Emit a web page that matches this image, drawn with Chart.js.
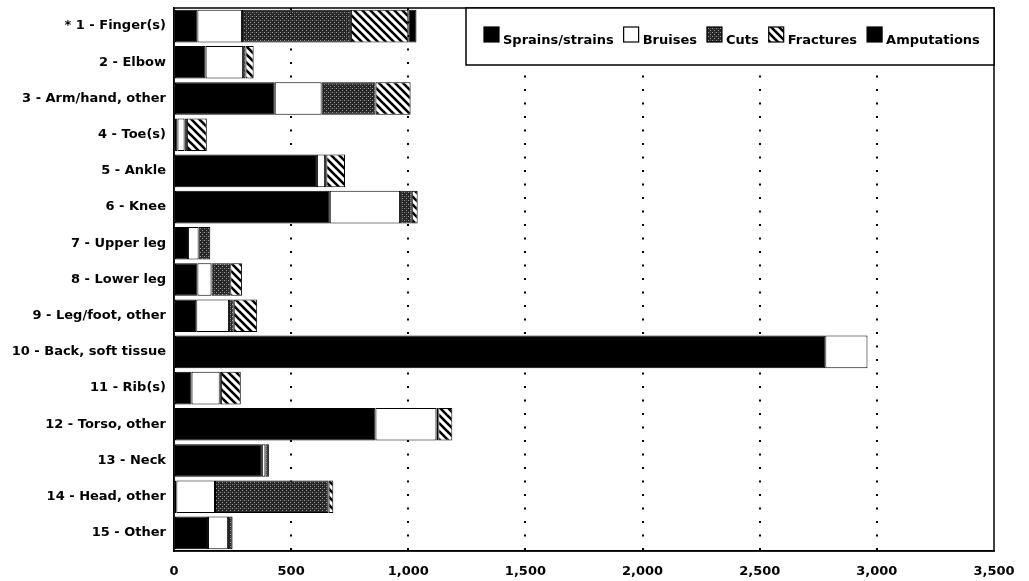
<!DOCTYPE html>
<html>
<head>
<meta charset="utf-8">
<script src="https://cdn.jsdelivr.net/npm/chart.js@4"></script>
<style>
  html, body { margin: 0; padding: 0; background: #fff; }
  #wrap { width: 1029px; height: 581px; position: relative; }
</style>
</head>
<body>
<div id="wrap"><canvas id="injuryChart"></canvas></div>
<script>
const bodyParts = [
  "* 1 - Finger(s)", "2 - Elbow", "3 - Arm/hand, other", "4 - Toe(s)", "5 - Ankle",
  "6 - Knee", "7 - Upper leg", "8 - Lower leg", "9 - Leg/foot, other",
  "10 - Back, soft tissue", "11 - Rib(s)", "12 - Torso, other", "13 - Neck",
  "14 - Head, other", "15 - Other"
];
const sprains     = [100, 135, 430, 15, 610, 665, 60, 100, 95, 2780, 75, 860, 375, 10, 145];
const bruises     = [190, 160, 200, 30, 35, 300, 45, 60, 140, 180, 120, 260, 15, 165, 85];
const cuts        = [465, 10, 230, 10, 5, 50, 50, 80, 20, 0, 5, 8, 15, 485, 20];
const fractures   = [245, 35, 150, 85, 80, 25, 0, 50, 100, 0, 85, 60, 0, 20, 0];
const amputations = [35, 0, 0, 0, 0, 0, 0, 0, 0, 0, 0, 0, 0, 0, 0];
const seriesNames = ["Sprains/strains", "Bruises", "Cuts", "Fractures", "Amputations"];
const xTicks = [0, 500, 1000, 1500, 2000, 2500, 3000, 3500];

const FONT = "'DejaVu Sans', sans-serif";

// dark stipple for cuts
function makeStipple() {
  const c = document.createElement("canvas");
  c.width = 4; c.height = 4;
  const g = c.getContext("2d");
  g.fillStyle = "#262626";
  g.fillRect(0, 0, 4, 4);
  g.fillStyle = "#9a9a9a";
  g.fillRect(0, 0, 1, 1);
  g.fillRect(2, 2, 1, 1);
  g.fillStyle = "#555";
  g.fillRect(2, 0, 1, 1);
  return g.createPattern(c, "repeat");
}

// diagonal hatch for fractures
function makeHatch() {
  const c = document.createElement("canvas");
  c.width = 8; c.height = 8;
  const g = c.getContext("2d");
  g.fillStyle = "#fff";
  g.fillRect(0, 0, 8, 8);
  g.strokeStyle = "#000";
  g.lineWidth = 2.6;
  for (let x = -8; x <= 8; x += 8) {
    g.beginPath();
    g.moveTo(x - 1, -1);
    g.lineTo(x + 9, 9);
    g.stroke();
  }
  return g.createPattern(c, "repeat");
}

const fills = ["#000", "#fff", makeStipple(), makeHatch(), "#000"];
const seriesData = [sprains, bruises, cuts, fractures, amputations];

const datasets = seriesNames.map((name, i) => ({
  label: name,
  data: seriesData[i],
  backgroundColor: fills[i],
  borderColor: "#000",
  borderWidth: 1,
  borderSkipped: false,
  barPercentage: 0.9,
  categoryPercentage: 1.0,
}));

// frame around plot + boxed legend in the top right corner
const framePlugin = {
  id: "frameAndLegend",
  afterDraw(chart) {
    const { ctx, chartArea } = chart;
    ctx.save();
    ctx.strokeStyle = "#000";
    ctx.lineWidth = 1.5;
    ctx.strokeRect(chartArea.left, chartArea.top, chartArea.right - chartArea.left, chartArea.bottom - chartArea.top);

    const boxL = 466, boxT = chartArea.top, boxR = chartArea.right, boxB = 65;
    ctx.fillStyle = "#fff";
    ctx.fillRect(boxL, boxT, boxR - boxL, boxB - boxT);
    ctx.strokeRect(boxL, boxT, boxR - boxL, boxB - boxT);

    ctx.font = "bold 13px " + FONT;
    ctx.textBaseline = "alphabetic";
    let x = 484;
    chart.data.datasets.forEach((ds) => {
      ctx.fillStyle = ds.backgroundColor;
      ctx.fillRect(x, 27, 15, 15);
      ctx.lineWidth = 1.2;
      ctx.strokeRect(x, 27, 15, 15);
      x += 19;
      ctx.fillStyle = "#000";
      ctx.fillText(ds.label, x, 44);
      x += ctx.measureText(ds.label).width + 10;
    });
    ctx.restore();
  },
};

new Chart(document.getElementById("injuryChart"), {
  type: "bar",
  data: { labels: bodyParts, datasets: datasets },
  options: {
    indexAxis: "y",
    responsive: true,
    maintainAspectRatio: false,
    animation: false,
    layout: { padding: { top: 8, right: 35, left: 0, bottom: 0 } },
    plugins: {
      legend: { display: false },
      tooltip: { enabled: false },
    },
    scales: {
      x: {
        stacked: true,
        min: 0,
        max: 3500,
        afterBuildTicks: (scale) => {
          scale.ticks = xTicks.map((v) => ({ value: v }));
        },
        afterFit: (scale) => { scale.height = 30; },
        grid: {
          drawTicks: false,
          lineWidth: 2,
          color: (c) => (c.tick && (c.tick.value === 0 || c.tick.value === 3500)) ? "rgba(0,0,0,0)" : "#000",
        },
        border: { display: true, color: "#000", width: 1.5, dash: [2, 11.5] },
        ticks: {
          color: "#000",
          padding: 13,
          maxRotation: 0,
          font: { family: FONT, size: 13, weight: "bold" },
          callback: (v) => v.toLocaleString("en-US"),
        },
      },
      y: {
        stacked: true,
        afterFit: (scale) => {
          scale.width = 174;
          scale.paddingTop = 0;
          scale.paddingBottom = 0;
        },
        grid: { display: false, drawTicks: false },
        border: { display: true, color: "#000", width: 1.5 },
        ticks: {
          color: "#000",
          padding: 8,
          font: { family: FONT, size: 13, weight: "bold" },
        },
      },
    },
  },
  plugins: [framePlugin],
});
</script>
</body>
</html>
